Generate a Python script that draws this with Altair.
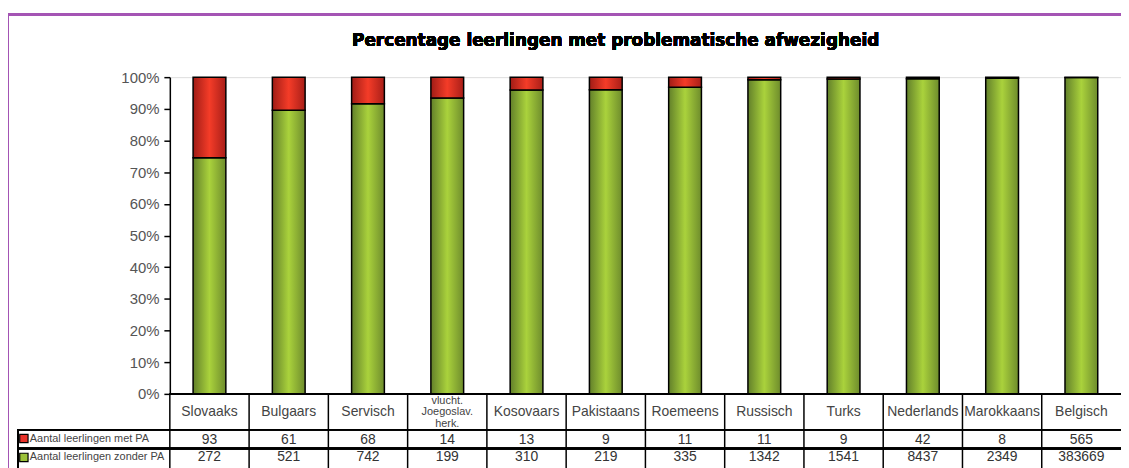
import altair as alt
import pandas as pd

categories = ["Slovaaks", "Bulgaars", "Servisch", "vlucht.\nJoegoslav.\nherk.", "Kosovaars",
              "Pakistaans", "Roemeens", "Russisch", "Turks", "Nederlands", "Marokkaans", "Belgisch"]
met_pa = [93, 61, 68, 14, 13, 9, 11, 11, 9, 42, 8, 565]
zonder_pa = [272, 521, 742, 199, 310, 219, 335, 1342, 1541, 8437, 2349, 383669]
series_names = ["Aantal leerlingen met PA", "Aantal leerlingen zonder PA"]
series_colors = ["#e8322a", "#9cc23a"]
y_ticks = [0, 0.1, 0.2, 0.3, 0.4, 0.5, 0.6, 0.7, 0.8, 0.9, 1.0]
title_text = "Percentage leerlingen met problematische afwezigheid"

df = pd.DataFrame({"cat": categories, "met": met_pa, "zonder": zonder_pa})
legend_df = pd.DataFrame({"name": series_names, "color": series_colors, "row": [0, 1]})

W = 958
H = 319
FONT = "Liberation Sans"

base = alt.Chart(df).transform_calculate(
    pct="datum.zonder / (datum.met + datum.zonder)", one="1"
)

xenc = alt.X("cat:N", sort=categories, scale=alt.Scale(paddingInner=0, paddingOuter=0), axis=None)

green_grad = {"gradient": "linear", "x1": 0, "x2": 1, "y1": 0, "y2": 0,
              "stops": [{"offset": 0, "color": "#62802a"}, {"offset": 0.5, "color": "#aad23c"},
                        {"offset": 1, "color": "#6e8c2c"}]}
red_grad = {"gradient": "linear", "x1": 0, "x2": 1, "y1": 0, "y2": 0,
            "stops": [{"offset": 0, "color": "#a01c16"}, {"offset": 0.5, "color": "#f43c28"},
                      {"offset": 1, "color": "#a81e18"}]}

yscale = alt.Scale(domain=[0, 1], nice=False)
yaxis = alt.Axis(values=y_ticks, format=".0%", grid=False, domainColor="black", tickColor="black",
                 tickSize=6, labelFontSize=15, labelFont=FONT, labelColor="#555555",
                 labelPadding=5, title=None, domainWidth=1.5, tickWidth=1.5)

green = base.mark_bar(width=33, fill=green_grad, stroke="black", strokeWidth=1.5).encode(
    x=xenc,
    y=alt.Y("pct:Q", scale=yscale, axis=yaxis),
    y2=alt.datum(0),
)
red = base.mark_bar(width=33, fill=red_grad, stroke="black", strokeWidth=1.5).encode(
    x=xenc,
    y=alt.Y("pct:Q", scale=yscale, axis=None),
    y2=alt.Y2("one:Q"),
)

# table
cat_text = base.transform_filter("indexof(datum.cat, '\\n') < 0").mark_text(
    font=FONT, fontSize=14, color="#444444", baseline="middle").encode(
    x=xenc, y=alt.value(413 - 76), text="cat:N")
cat_text_multi = base.transform_filter("indexof(datum.cat, '\\n') >= 0").mark_text(
    font=FONT, fontSize=11, color="#444444", baseline="middle", lineBreak="\n",
    lineHeight=11.5).encode(
    x=xenc, y=alt.value(402 - 76), text="cat:N")
met_text = base.mark_text(font=FONT, fontSize=14, color="#333333", baseline="middle").encode(
    x=xenc, y=alt.value(441 - 76), text="met:Q")
zonder_text = base.mark_text(font=FONT, fontSize=14, color="#333333", baseline="middle").encode(
    x=xenc, y=alt.value(459 - 76), text="zonder:Q")

vlines = base.mark_rule(color="black", strokeWidth=1.5).encode(
    x=alt.X("cat:N", sort=categories, bandPosition=0,
            scale=alt.Scale(paddingInner=0, paddingOuter=0), axis=None),
    y=alt.value(H), y2=alt.value(H + 80))
hline0 = alt.Chart(df).mark_rule(color="black", strokeWidth=1.5).encode(
    x=alt.value(0), x2=alt.value(W + 20), y=alt.value(H))
hline1 = alt.Chart(df).mark_rule(color="black", strokeWidth=1.5).encode(
    x=alt.value(18 - 171), x2=alt.value(W + 20), y=alt.value(431 - 76))
hline2 = alt.Chart(df).mark_rule(color="black", strokeWidth=1.5).encode(
    x=alt.value(18 - 171), x2=alt.value(W + 20), y=alt.value(450 - 76))
lline = alt.Chart(df).mark_rule(color="black", strokeWidth=1.5).encode(
    x=alt.value(18 - 171), y=alt.value(431 - 76), y2=alt.value(H + 80))

# legend keys
leg = alt.Chart(legend_df)
leg_y = alt.Y("row:Q", scale=alt.Scale(domain=[0, 1], range=[440 - 76, 459 - 76]), axis=None)
leg_sq = leg.mark_square(size=70, stroke="black", strokeWidth=1.2, opacity=1).encode(
    x=alt.value(24 - 171), y=leg_y, fill=alt.Fill("color:N", scale=None),
)
leg_txt = leg.mark_text(font=FONT, fontSize=11, color="#444444", align="left", baseline="middle").encode(
    x=alt.value(30 - 171), y=leg_y, text="name:N",
)

# frame
frame_top = alt.Chart(df).mark_rule(color="#a455b4", strokeWidth=2).encode(
    x=alt.value(8 - 171), x2=alt.value(W + 20), y=alt.value(13 - 76))
frame_left = alt.Chart(df).mark_rule(color="#a455b4", strokeWidth=2).encode(
    x=alt.value(8 - 171), y=alt.value(13 - 76), y2=alt.value(H + 100))

title = alt.Chart(df).mark_text(font="DejaVu Sans", fontSize=17, fontWeight="bold", color="black").encode(
    x=alt.value(620 - 171), y=alt.value(40 - 76), text=alt.value(title_text))

chart = alt.layer(
    frame_top, frame_left, title, green, red, hline0, hline1, hline2, lline, vlines,
    cat_text, cat_text_multi, met_text, zonder_text, leg_sq, leg_txt
).resolve_scale(y="independent").properties(
    width=W, height=H,
    padding={"left": 163, "top": 68, "right": 0, "bottom": 73},
    autosize=alt.AutoSizeParams(type="none"),
).configure_view(stroke=None).configure(background="white")

chart.save("out.html", embed_options={"renderer": "svg", "actions": False})
